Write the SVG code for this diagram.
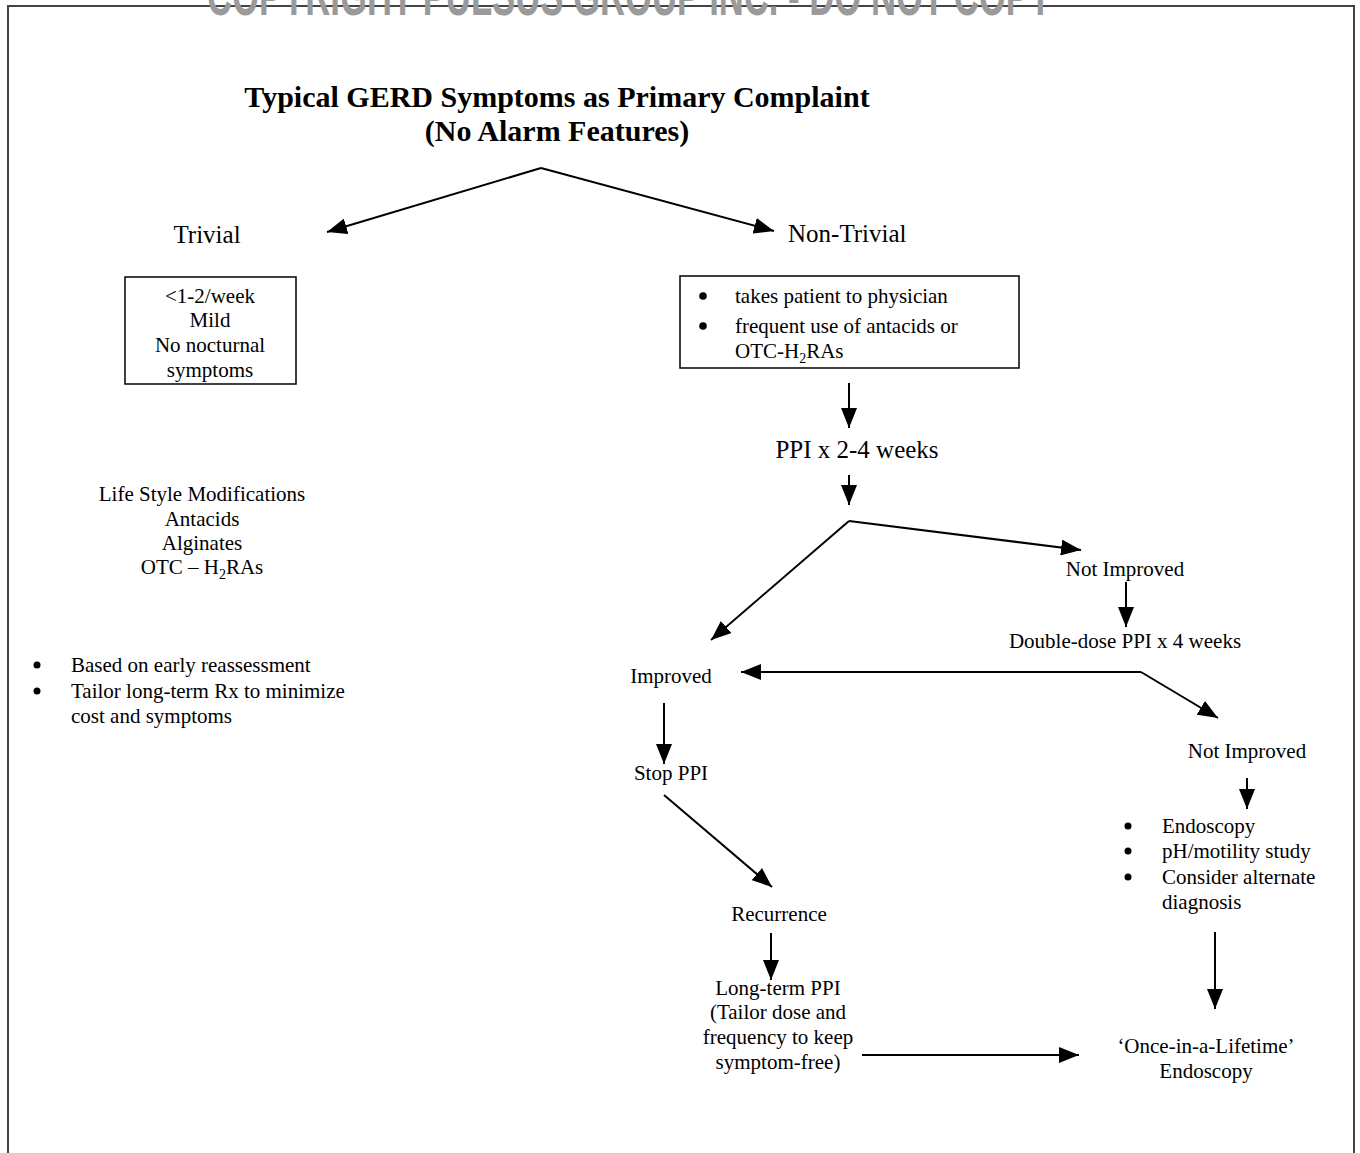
<svg xmlns="http://www.w3.org/2000/svg" width="1360" height="1153" viewBox="0 0 1360 1153">
<defs>
<style>
text{font-family:"Liberation Serif","Times New Roman",serif;fill:#000}
.t{font-size:21px}
.m{text-anchor:middle}
.big{font-size:25px}
.title{font-size:30px;font-weight:bold;text-anchor:middle}
.wm{font-family:"Liberation Sans Narrow","Liberation Sans",sans-serif;font-weight:bold;font-size:58px;fill:#9a9a9a}
.ln{stroke:#000;stroke-width:2;fill:none}
.box{stroke:#000;stroke-width:1.5;fill:#fff}
</style>
<marker id="ah" viewBox="0 0 20 16" refX="20" refY="8" markerWidth="20" markerHeight="16" markerUnits="userSpaceOnUse" orient="auto">
<path d="M0,0 L20,8 L0,16 z" fill="#000"/>
</marker>
</defs>
<rect width="1360" height="1153" fill="#fff"/>
<path d="M8,1153 V6 H1354 V1153" fill="none" stroke="#444" stroke-width="2"/>
<text class="wm" x="207" y="15" textLength="845" lengthAdjust="spacingAndGlyphs">COPYRIGHT PULSUS GROUP INC. - DO NOT COPY</text>

<g id="title">
<text class="title" x="557" y="107">Typical GERD Symptoms as Primary Complaint</text>
<text class="title" x="557" y="141">(No Alarm Features)</text>
</g>

<g id="connectors">
<line class="ln" x1="541" y1="168" x2="327" y2="232" marker-end="url(#ah)"/>
<line class="ln" x1="541" y1="168" x2="774" y2="231" marker-end="url(#ah)"/>
<line class="ln" x1="849" y1="383" x2="849" y2="428" marker-end="url(#ah)"/>
<line class="ln" x1="849" y1="475" x2="849" y2="505" marker-end="url(#ah)"/>
<line class="ln" x1="849" y1="521" x2="711" y2="640" marker-end="url(#ah)"/>
<line class="ln" x1="849" y1="521" x2="1081" y2="550" marker-end="url(#ah)"/>
<line class="ln" x1="1126" y1="582" x2="1126" y2="627" marker-end="url(#ah)"/>
<line class="ln" x1="1141" y1="672" x2="741" y2="672" marker-end="url(#ah)"/>
<line class="ln" x1="1141" y1="672" x2="1218" y2="718" marker-end="url(#ah)"/>
<line class="ln" x1="664" y1="703" x2="664" y2="764" marker-end="url(#ah)"/>
<line class="ln" x1="664" y1="795" x2="772" y2="887" marker-end="url(#ah)"/>
<line class="ln" x1="771" y1="933" x2="771" y2="980" marker-end="url(#ah)"/>
<line class="ln" x1="862" y1="1055" x2="1079" y2="1055" marker-end="url(#ah)"/>
<line class="ln" x1="1247" y1="778" x2="1247" y2="809" marker-end="url(#ah)"/>
<line class="ln" x1="1215" y1="932" x2="1215" y2="1009" marker-end="url(#ah)"/>
</g>

<g id="trivial"><text class="big m" x="207" y="243">Trivial</text></g>
<g id="nontrivial"><text class="big" x="788" y="242">Non-Trivial</text></g>

<g id="trivial-box">
<rect class="box" x="125" y="277" width="171" height="107"/>
<text class="t m" x="210" y="303">&lt;1-2/week</text>
<text class="t m" x="210" y="327">Mild</text>
<text class="t m" x="210" y="352">No nocturnal</text>
<text class="t m" x="210" y="377">symptoms</text>
</g>

<g id="nontrivial-box">
<rect class="box" x="680" y="276" width="339" height="92"/>
<circle cx="703" cy="296" r="3.8"/>
<text class="t" x="735" y="303">takes patient to physician</text>
<circle cx="703" cy="326" r="3.8"/>
<text class="t" x="735" y="333">frequent use of antacids or</text>
<text class="t" x="735" y="358">OTC-H<tspan font-size="14" dy="5">2</tspan><tspan dy="-5">RAs</tspan></text>
</g>

<g id="ppi"><text class="big m" x="857" y="458">PPI x 2-4 weeks</text></g>

<g id="lifestyle">
<text class="t m" x="202" y="501">Life Style Modifications</text>
<text class="t m" x="202" y="526">Antacids</text>
<text class="t m" x="202" y="550">Alginates</text>
<text class="t m" x="202" y="574">OTC – H<tspan font-size="14" dy="5">2</tspan><tspan dy="-5">RAs</tspan></text>
</g>

<g id="reassess">
<circle cx="37" cy="665" r="3.5"/>
<text class="t" x="71" y="672">Based on early reassessment</text>
<circle cx="37" cy="691" r="3.5"/>
<text class="t" x="71" y="698">Tailor long-term Rx to minimize</text>
<text class="t" x="71" y="723">cost and symptoms</text>
</g>

<g id="not-improved-1"><text class="t m" x="1125" y="576">Not Improved</text></g>
<g id="double-dose"><text class="t m" x="1125" y="648">Double-dose PPI x 4 weeks</text></g>
<g id="improved"><text class="t m" x="671" y="683">Improved</text></g>
<g id="stop-ppi"><text class="t m" x="671" y="780">Stop PPI</text></g>
<g id="recurrence"><text class="t m" x="779" y="921">Recurrence</text></g>
<g id="long-term">
<text class="t m" x="778" y="995">Long-term PPI</text>
<text class="t m" x="778" y="1019">(Tailor dose and</text>
<text class="t m" x="778" y="1044">frequency to keep</text>
<text class="t m" x="778" y="1069">symptom-free)</text>
</g>
<g id="not-improved-2"><text class="t m" x="1247" y="758">Not Improved</text></g>
<g id="workup">
<circle cx="1128" cy="826" r="3.5"/>
<text class="t" x="1162" y="833">Endoscopy</text>
<circle cx="1128" cy="851" r="3.5"/>
<text class="t" x="1162" y="858">pH/motility study</text>
<circle cx="1128" cy="877" r="3.5"/>
<text class="t" x="1162" y="884">Consider alternate</text>
<text class="t" x="1162" y="909">diagnosis</text>
</g>
<g id="once">
<text class="t m" x="1206" y="1053">‘Once-in-a-Lifetime’</text>
<text class="t m" x="1206" y="1078">Endoscopy</text>
</g>
</svg>
